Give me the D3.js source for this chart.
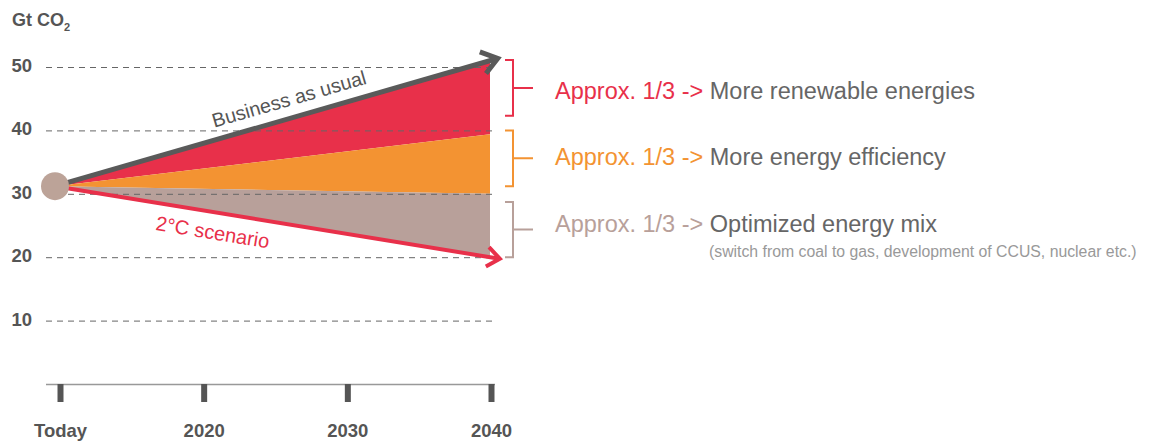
<!DOCTYPE html>
<html>
<head>
<meta charset="utf-8">
<script src="https://cdn.jsdelivr.net/npm/d3@7/dist/d3.min.js"></script>
<style>
  html, body { margin: 0; padding: 0; background: #fff; }
  svg { display: block; font-family: "Liberation Sans", Arial, Helvetica, sans-serif; }
</style>
</head>
<body>
<svg id="chart" width="1151" height="441"></svg>
<script>
// ---------- data ----------
const years = [2010, 2040];
const bauValues = [31.2, 51];          // Business as usual (top of red band)
const efficiencyTop = [31.2, 39.4];    // top of orange band
const mixTop = [31.2, 30];             // top of grey band
const twoDegValues = [31.2, 20];       // 2°C scenario (bottom of grey band)

const yTickValues = [10, 20, 30, 40, 50];
const xTickYears = [2010, 2020, 2030, 2040];
const xTickLabels = ["Today", "2020", "2030", "2040"];

const annotationPrefix = ["Approx. 1/3 ->", "Approx. 1/3 ->", "Approx. 1/3 ->"];
const annotationText = ["More renewable energies", "More energy efficiency", "Optimized energy mix"];
const annotationNote = ["", "", "(switch from coal to gas, development of CCUS, nuclear etc.)"];
const bracketRanges = [[51.1, 42.3], [40, 31.2], [28.7, 20]];

// ---------- style ----------
const RED = "#e8304a", ORANGE = "#f39332", BROWN = "#b8a09a", DARK = "#5a5a5a", TXT = "#555";
const colors = [RED, ORANGE, BROWN];

const svg = d3.select("#chart");
const x = d3.scaleLinear().domain([2010, 2040]).range([60, 491]);
const y = d3.scaleLinear().domain([0, 50]).range([384, 67]);
const originShift = -5; // the start dot sits slightly left of the "Today" tick
const px = (yr, i) => x(yr) + (i === 0 ? originShift : -1);

// ---------- bands ----------
const band = (lower, upper) => d3.area()
  .x((d, i) => px(d, i))
  .y0((d, i) => y(lower[i]))
  .y1((d, i) => y(upper[i]))(years);

svg.append("path").attr("d", band(efficiencyTop, bauValues)).attr("fill", RED);
svg.append("path").attr("d", band(mixTop, efficiencyTop)).attr("fill", ORANGE);
svg.append("path").attr("d", band(twoDegValues, mixTop)).attr("fill", BROWN);

// ---------- grid ----------
svg.append("g").selectAll("line").data(yTickValues).join("line")
  .attr("x1", x(2010) - 14).attr("x2", x(2040) + 2)
  .attr("y1", d => y(d) + 0.5).attr("y2", d => y(d) + 0.5)
  .attr("stroke", "#666").attr("stroke-width", 1).attr("stroke-dasharray", "6,5");

svg.append("g").selectAll("text").data(yTickValues).join("text")
  .attr("x", 32).attr("y", d => y(d) + 5)
  .attr("text-anchor", "end").attr("font-size", 18.5).attr("font-weight", "bold")
  .attr("fill", TXT).text(d => d);

// ---------- x axis ----------
svg.append("line")
  .attr("x1", x(2010) - 14).attr("x2", x(2040) + 4)
  .attr("y1", y(0) + 0.5).attr("y2", y(0) + 0.5)
  .attr("stroke", "#999").attr("stroke-width", 1.5);

const xAxis = d3.axisBottom(x).tickValues(xTickYears)
  .tickFormat((d, i) => xTickLabels[i]).tickSize(18).tickSizeOuter(0).tickPadding(22);
const gx = svg.append("g").attr("transform", `translate(0,${y(0)})`).call(xAxis);
gx.select(".domain").remove();
gx.selectAll(".tick line").attr("stroke", TXT).attr("stroke-width", 6);
gx.selectAll(".tick text").attr("fill", TXT).attr("font-size", 18.5).attr("font-weight", "bold")
  .attr("font-family", "Liberation Sans, Arial, sans-serif");

// ---------- arrows ----------
function arrowLine(vals, color, width, ext, armLen, armAng) {
  const x0 = px(years[0], 0), y0 = y(vals[0]);
  const x1 = px(years[1], 1), y1 = y(vals[1]);
  const a = Math.atan2(y1 - y0, x1 - x0);
  const tx = x1 + ext * Math.cos(a), ty = y1 + ext * Math.sin(a);
  const g = svg.append("g");
  g.append("path").attr("d", d3.line()([[x0, y0], [tx - 2 * Math.cos(a), ty - 2 * Math.sin(a)]]))
    .attr("stroke", color).attr("stroke-width", width).attr("fill", "none");
  const r = armAng * Math.PI / 180;
  const p1 = [tx - armLen * Math.cos(a - r), ty - armLen * Math.sin(a - r)];
  const p2 = [tx - armLen * Math.cos(a + r), ty - armLen * Math.sin(a + r)];
  g.append("path").attr("d", d3.line()([p1, [tx, ty], p2]))
    .attr("stroke", color).attr("stroke-width", width).attr("fill", "none")
    .attr("stroke-linejoin", "miter").attr("stroke-miterlimit", 10);
  return { x0, y0, x1, y1, a };
}

const bau = arrowLine(bauValues, DARK, 5, 8, 19, 36);
const two = arrowLine(twoDegValues, RED, 4, 10, 16, 38);

// ---------- start dot ----------
svg.append("circle").attr("cx", px(years[0], 0)).attr("cy", y(bauValues[0]))
  .attr("r", 14).attr("fill", "#bca398");

// ---------- line labels ----------
function lineLabel(info, t, offset, text, color, size) {
  const lx = info.x0 + t * (info.x1 - info.x0);
  const ly = info.y0 + t * (info.y1 - info.y0);
  svg.append("text")
    .attr("transform", `translate(${lx},${ly}) rotate(${info.a * 180 / Math.PI}) translate(0,${offset})`)
    .attr("text-anchor", "middle").attr("font-size", size).attr("fill", color).text(text);
}
lineLabel(bau, 0.55, -12, "Business as usual", TXT, 19.8);
lineLabel(two, 0.37, 27, "2°C scenario", RED, 20);

// ---------- title ----------
const title = svg.append("text").attr("x", 12).attr("y", 26)
  .attr("font-size", 18).attr("font-weight", "bold").attr("fill", TXT);
title.append("tspan").text("Gt CO");
title.append("tspan").attr("font-size", 11).attr("dy", 5).text("2");

// ---------- brackets & annotations ----------
const bx = 513;
const baselines = [99, 165, 232];
bracketRanges.forEach((r, i) => {
  const t = y(r[0]), b = y(r[1]), m = (t + b) / 2;
  svg.append("path")
    .attr("d", `M${bx - 8},${t}H${bx}V${b}H${bx - 8}M${bx},${m}H${bx + 20}`)
    .attr("stroke", colors[i]).attr("stroke-width", 2).attr("fill", "none");
  const tx = svg.append("text").attr("x", 555).attr("y", baselines[i]).attr("font-size", 23.5);
  tx.append("tspan").attr("fill", colors[i]).text(annotationPrefix[i] + " ");
  tx.append("tspan").attr("fill", "#666").text(annotationText[i]);
  if (annotationNote[i]) {
    svg.append("text").attr("x", 709).attr("y", baselines[i] + 25)
      .attr("font-size", 15.8).attr("fill", "#999").text(annotationNote[i]);
  }
});
</script>
</body>
</html>
